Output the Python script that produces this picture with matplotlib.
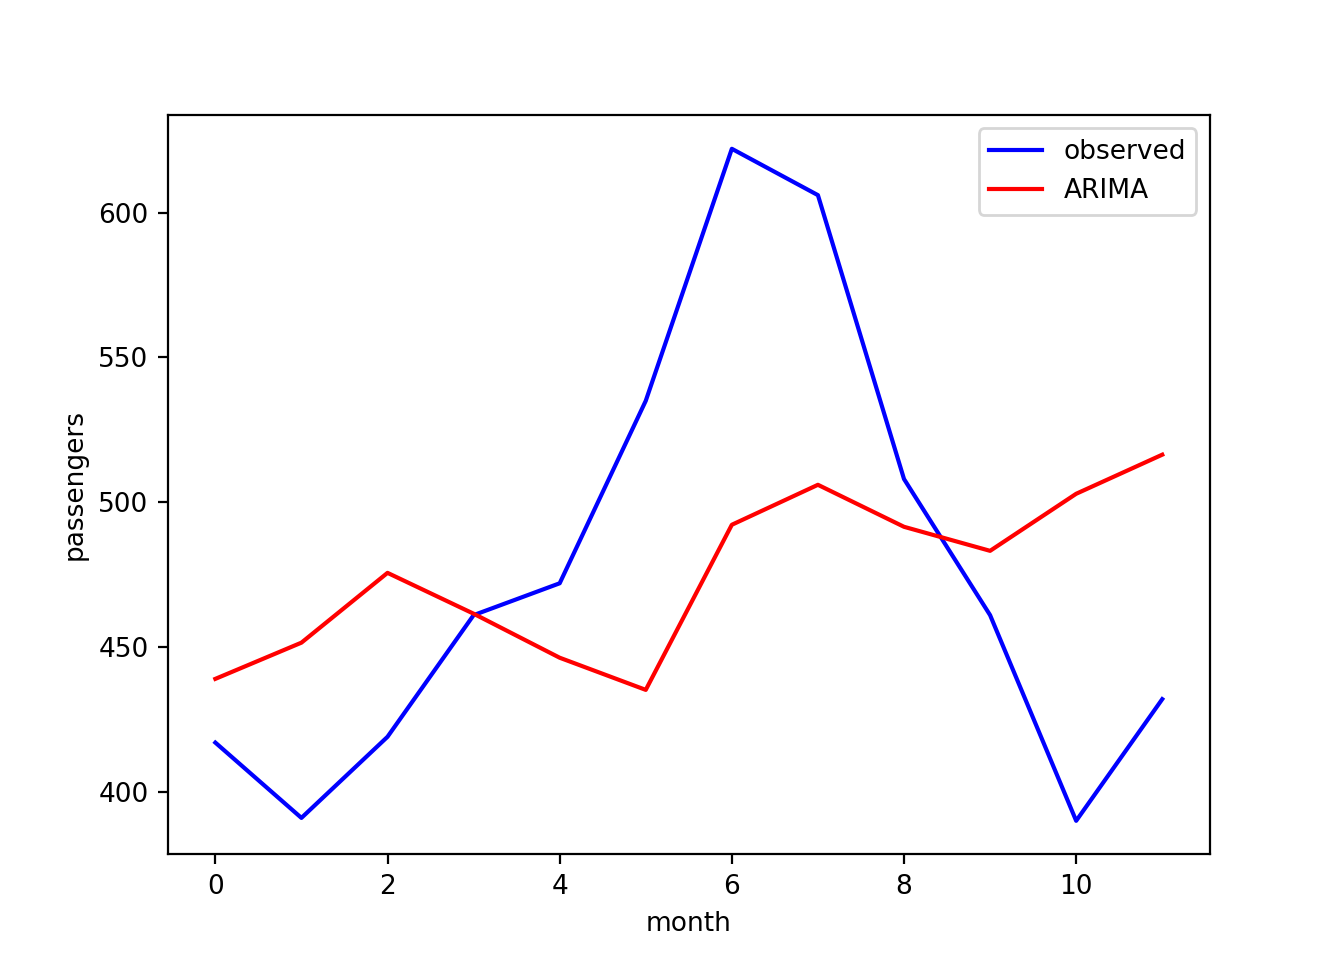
import matplotlib
matplotlib.use("Agg")
import matplotlib.pyplot as plt

plt.rcParams["font.size"] = 9.5

months = list(range(12))
observed = [417, 391, 419, 461, 472, 535, 622, 606, 508, 461, 390, 432]
arima = [439.0, 451.5, 475.6, 461.5, 446.3, 435.2, 492.2, 506.0, 491.5, 483.2, 502.9, 516.4]

fig, ax = plt.subplots(figsize=(6.72, 4.8), dpi=200)
ax.plot(months, observed, color="blue", label="observed")
ax.plot(months, arima, color="red", label="ARIMA")
ax.set_xlabel("month")
ax.set_ylabel("passengers")
ax.legend(loc="upper right")
fig.savefig("out.png", dpi=200)
